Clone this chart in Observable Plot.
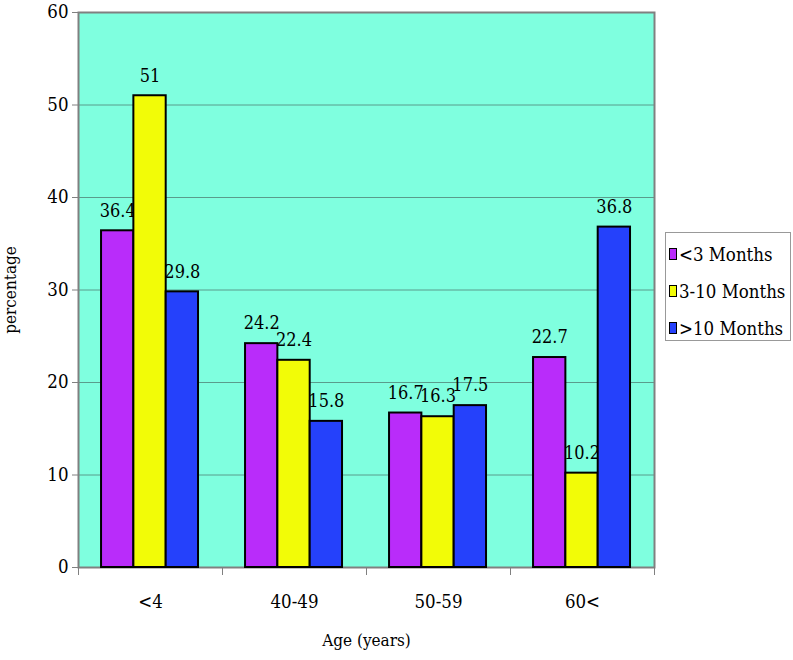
<!DOCTYPE html>
<html><head><meta charset="utf-8">
<script src="https://cdn.jsdelivr.net/npm/d3@7"></script>
<script src="https://cdn.jsdelivr.net/npm/@observablehq/plot@0.6"></script>
<style>
body{margin:0;background:#fff;}
#wrap{position:relative;width:793px;height:660px;font-family:"DejaVu Serif Condensed","DejaVu Serif",serif;font-stretch:condensed;}
#legend{position:absolute;left:665px;top:232px;width:126px;height:109px;border:1px solid #999;background:#fff;box-sizing:border-box;}
.item{position:absolute;left:3px;height:20px;display:flex;align-items:center;font-size:18.5px;color:#000;white-space:nowrap;}
.sw{width:6px;height:10px;border:1.5px solid #000;margin-right:2px;}
</style></head><body><div id="wrap"></div>
<script>
const ages = ["<4", "40-49", "50-59", "60<"];
const seriesNames = ["<3 Months", "3-10 Months", ">10 Months"];
const lessThan3 = [36.4, 24.2, 16.7, 22.7];
const from3to10 = [51, 22.4, 16.3, 10.2];
const moreThan10 = [29.8, 15.8, 17.5, 36.8];
const yTicks = [0, 10, 20, 30, 40, 50, 60];
const colors = ["#b92cfa", "#f2fc07", "#2541fb"];

const seriesVals = [lessThan3, from3to10, moreThan10];
const W = 793, H = 660, mL = 78, mR = 139, mT = 12, mB = 93;
const bw = (W - mL - mR) / ages.length;
const gapFrac = 0.16, barFrac = 0.2245;

const marks = [
  Plot.frame({fill: "#7fffdf", stroke: null}),
  Plot.ruleY(yTicks.slice(1, -1), {stroke: "#5a9c8c", strokeWidth: 1}),
  Plot.frame({stroke: "#808080", strokeWidth: 2, fill: null}),
  Plot.ruleX(ages, {x: d => d, y1: 0, y2: 0, insetBottom: -8, dx: -bw / 2, stroke: "#808080", strokeWidth: 1}),
  Plot.ruleX(ages.slice(-1), {x: d => d, y1: 0, y2: 0, insetBottom: -8, dx: bw / 2, stroke: "#808080", strokeWidth: 1})
];
seriesVals.forEach((vals, i) => {
  const rows = ages.map((a, j) => ({age: a, v: vals[j]}));
  const il = (gapFrac + barFrac * i) * bw;
  const ir = bw - (gapFrac + barFrac * (i + 1)) * bw;
  marks.push(Plot.barY(rows, {x: "age", y: "v", fill: colors[i], stroke: "#000", strokeWidth: 2, insetLeft: il, insetRight: ir}));
  marks.push(Plot.text(rows, {x: "age", y: "v", text: d => String(d.v), dx: (gapFrac + barFrac * (i + 0.5) - 0.5) * bw, dy: -20, fill: "#000", fontSize: 18}));
});
marks.push(Plot.axisY({ticks: yTicks, tickSize: 6, tickPadding: 4, stroke: "#808080", fill: "#000", fontSize: 18.5, label: null}));
marks.push(Plot.axisY({ticks: [], tickSize: 0, label: "percentage", labelAnchor: "center", labelOffset: 75, labelArrow: "none", fontSize: 17}));
marks.push(Plot.axisX({tickSize: 0, tickPadding: 27, fontSize: 18.5, label: null}));
marks.push(Plot.axisX({ticks: [], tickSize: 0, label: "Age (years)", labelAnchor: "center", labelOffset: 78, labelArrow: "none", fontSize: 17}));

const chart = Plot.plot({
  width: W, height: H,
  marginLeft: mL, marginRight: mR, marginTop: mT, marginBottom: mB,
  style: {fontFamily: '"DejaVu Serif Condensed","DejaVu Serif",serif', fontSize: "17px", color: "#000", background: "transparent"},
  x: {type: "band", domain: ages, padding: 0},
  y: {domain: [0, 60]},
  marks
});
const wrap = document.getElementById("wrap");
wrap.appendChild(chart);
const legend = document.createElement("div");
legend.id = "legend";
seriesNames.forEach((name, i) => {
  const it = document.createElement("div");
  it.className = "item";
  it.style.top = (11 + i * 37) + "px";
  const sw = document.createElement("span");
  sw.className = "sw";
  sw.style.background = colors[i];
  const t = document.createElement("span");
  t.textContent = name;
  it.appendChild(sw); it.appendChild(t);
  legend.appendChild(it);
});
wrap.appendChild(legend);
</script></body></html>
